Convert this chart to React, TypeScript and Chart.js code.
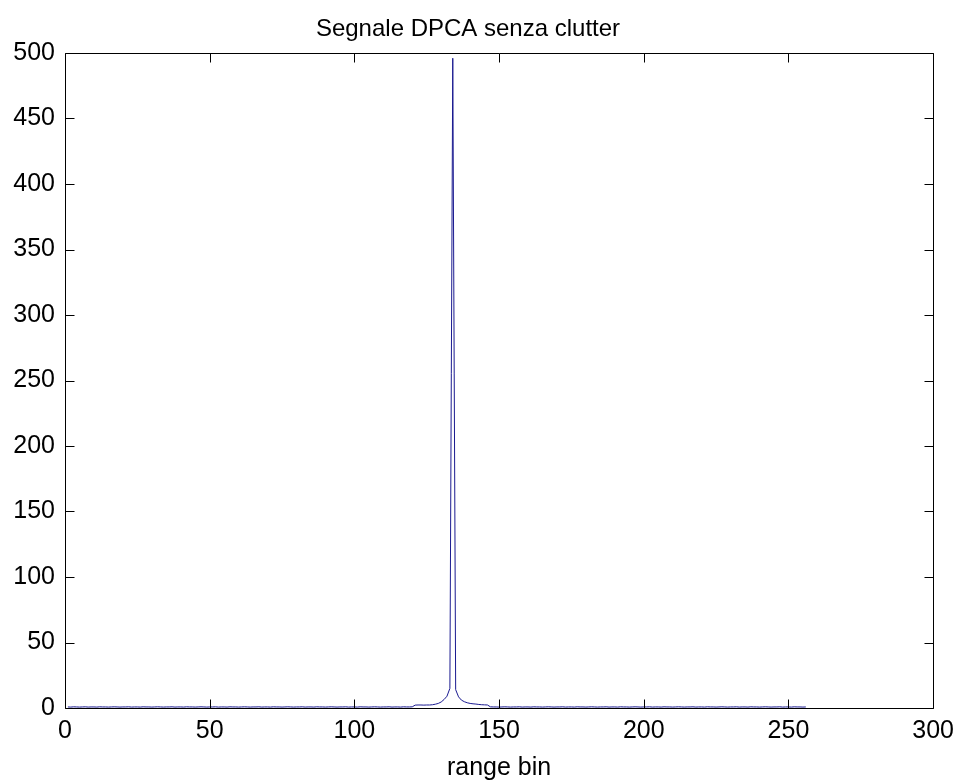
import { useEffect, useRef } from 'react';
import { Chart, registerables } from 'chart.js';

Chart.register(...registerables);

const chartTitle = 'Segnale DPCA senza clutter';
const xAxisLabel = 'range bin';
const xTicks = [0, 50, 100, 150, 200, 250, 300];
const yTicks = [0, 50, 100, 150, 200, 250, 300, 350, 400, 450, 500];

// amplitude of the DPCA output for range bins 1..256
const amplitude = [
  0.8, 0.7, 0.9, 0.8, 0.7, 0.8, 0.9, 0.7, 0.8, 0.8,
  0.7, 0.9, 0.8, 0.8, 0.7, 0.8, 0.9, 0.8, 0.7, 0.8,
  0.8, 0.9, 0.7, 0.8, 0.8, 0.7, 0.9, 0.8, 0.8, 0.7,
  0.8, 0.9, 0.8, 0.7, 0.8, 0.8, 0.9, 0.7, 0.8, 0.8,
  0.7, 0.9, 0.8, 0.8, 0.7, 0.8, 0.9, 0.8, 0.7, 0.8,
  0.8, 0.9, 0.7, 0.8, 0.8, 0.7, 0.9, 0.8, 0.8, 0.7,
  0.8, 0.9, 0.8, 0.7, 0.8, 0.8, 0.9, 0.7, 0.8, 0.8,
  0.7, 0.9, 0.8, 0.8, 0.7, 0.8, 0.9, 0.8, 0.7, 0.8,
  0.8, 0.9, 0.7, 0.8, 0.8, 0.7, 0.9, 0.8, 0.8, 0.7,
  0.8, 0.9, 0.8, 0.7, 0.8, 0.8, 0.9, 0.7, 0.8, 0.8,
  0.7, 0.9, 0.8, 0.8, 0.7, 0.8, 0.9, 0.8, 0.7, 0.8,
  0.8, 0.9, 0.7, 0.8, 0.8, 0.7, 0.9, 0.8, 0.8, 0.9,
  // bins 121..150
  2.2, 2.3, 2.3, 2.2, 2.3, 2.3, 2.5, 2.9, 3.5, 4.6,
  6.5, 9.0, 15.0, 496.0, 14.0, 8.5, 6.0, 4.8, 4.0, 3.5,
  3.2, 3.0, 2.7, 2.5, 2.4, 2.3, 0.9, 0.8, 0.8, 0.7,
  // bins 151..256
  0.8, 0.9, 0.8, 0.7, 0.8, 0.8, 0.9, 0.7, 0.8, 0.8,
  0.7, 0.9, 0.8, 0.8, 0.7, 0.8, 0.9, 0.8, 0.7, 0.8,
  0.8, 0.9, 0.7, 0.8, 0.8, 0.7, 0.9, 0.8, 0.8, 0.7,
  0.8, 0.9, 0.8, 0.7, 0.8, 0.8, 0.9, 0.7, 0.8, 0.8,
  0.7, 0.9, 0.8, 0.8, 0.7, 0.8, 0.9, 0.8, 0.7, 0.8,
  0.8, 0.9, 0.7, 0.8, 0.8, 0.7, 0.9, 0.8, 0.8, 0.7,
  0.8, 0.9, 0.8, 0.7, 0.8, 0.8, 0.9, 0.7, 0.8, 0.8,
  0.7, 0.9, 0.8, 0.8, 0.7, 0.8, 0.9, 0.8, 0.7, 0.8,
  0.8, 0.9, 0.7, 0.8, 0.8, 0.7, 0.9, 0.8, 0.8, 0.7,
  0.8, 0.9, 0.8, 0.7, 0.8, 0.8, 0.9, 0.7, 0.8, 0.8,
  0.7, 0.9, 0.8, 0.8, 0.7, 0.8,
];

const FONT = "'Liberation Sans', Arial, sans-serif";
const TICK_LEN = 9;

const boxPlugin = {
  id: 'matlabBox',
  afterDatasetsDraw(chart: any) {
    const { ctx, chartArea } = chart;
    const xs = chart.scales.x;
    const ys = chart.scales.y;
    const l = Math.round(chartArea.left) + 0.5;
    const r = Math.round(chartArea.right) + 0.5;
    const t = Math.round(chartArea.top) + 0.5;
    const b = Math.round(chartArea.bottom) + 0.5;
    ctx.save();
    ctx.strokeStyle = '#000';
    ctx.lineWidth = 1;
    ctx.beginPath();
    ctx.rect(l, t, r - l, b - t);
    for (const v of xTicks) {
      const px = Math.round(xs.getPixelForValue(v)) + 0.5;
      ctx.moveTo(px, b);
      ctx.lineTo(px, b - TICK_LEN);
      ctx.moveTo(px, t);
      ctx.lineTo(px, t + TICK_LEN);
    }
    for (const v of yTicks) {
      const py = Math.round(ys.getPixelForValue(v)) + 0.5;
      ctx.moveTo(l, py);
      ctx.lineTo(l + TICK_LEN, py);
      ctx.moveTo(r, py);
      ctx.lineTo(r - TICK_LEN, py);
    }
    ctx.stroke();
    ctx.restore();
  },
};

export default function App() {
  const ref = useRef<HTMLCanvasElement | null>(null);

  useEffect(() => {
    if (!ref.current) return;
    const points = amplitude.map((v, i) => ({ x: i + 1, y: v }));
    const chart = new Chart(ref.current, {
      type: 'line',
      data: {
        datasets: [
          {
            data: points,
            borderColor: '#1a1a90',
            borderWidth: 1,
            pointRadius: 0,
            tension: 0,
            fill: false,
          },
        ],
      },
      options: {
        animation: false,
        responsive: false,
        events: [],
        layout: { padding: { left: 0, right: 26, top: 0, bottom: 0 } },
        plugins: {
          legend: { display: false },
          tooltip: { enabled: false },
          title: {
            display: true,
            text: chartTitle,
            color: '#000',
            font: { family: FONT, size: 24, weight: 'normal' },
            padding: { top: 14.5, bottom: 9.7 },
          },
        },
        scales: {
          x: {
            type: 'linear',
            min: 0,
            max: 300,
            grid: { display: false, drawTicks: false, tickLength: 0 },
            border: { display: false },
            ticks: {
              stepSize: 50,
              color: '#000',
              padding: 8,
              maxRotation: 0,
              font: { family: FONT, size: 25 },
            },
            title: {
              display: true,
              text: xAxisLabel,
              color: '#000',
              font: { family: FONT, size: 25 },
              padding: { top: 0, bottom: 0 },
            },
            afterFit: (s: any) => {
              s.height = 75;
            },
          },
          y: {
            type: 'linear',
            min: 0,
            max: 500,
            grid: { display: false, drawTicks: false, tickLength: 0 },
            border: { display: false },
            ticks: {
              stepSize: 50,
              color: '#000',
              padding: 10,
              font: { family: FONT, size: 25 },
            },
            afterFit: (s: any) => {
              s.width = 65;
            },
          },
        },
      },
      plugins: [boxPlugin],
    });
    return () => chart.destroy();
  }, []);

  return (
    <div style={{ position: 'fixed', left: 0, top: 0, width: 962, height: 783, background: '#fff' }}>
      <canvas ref={ref} width={962} height={783} style={{ display: 'block' }} />
    </div>
  );
}
